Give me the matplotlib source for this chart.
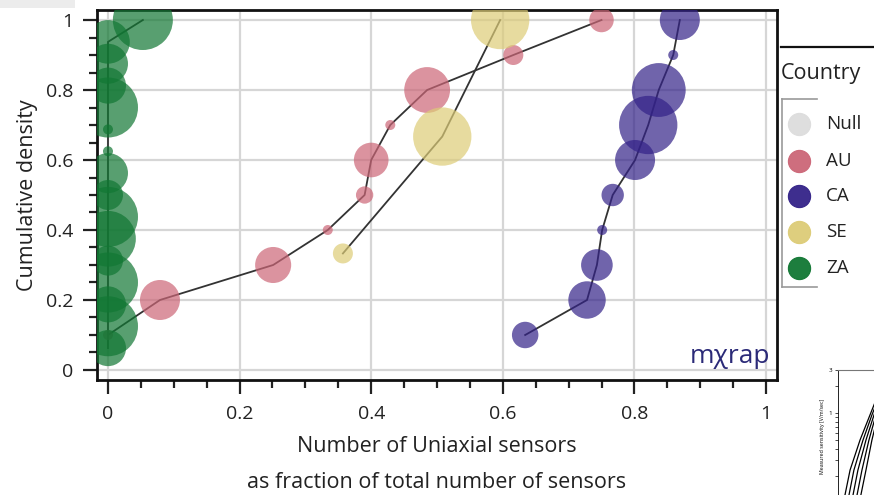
import matplotlib
matplotlib.use('Agg')
import matplotlib.pyplot as plt
from matplotlib.lines import Line2D
from matplotlib.patches import Rectangle

# ---------------- data ----------------
legend_countries = ['Null', 'AU', 'CA', 'SE', 'ZA']
country_colors = ['#dddddd', '#cc6677', '#332288', '#ddcc77', '#117733']

au_frac = [0.0, 0.079, 0.251, 0.334, 0.39, 0.40, 0.429, 0.485, 0.616, 0.75]
au_cum = [0.1, 0.2, 0.3, 0.4, 0.5, 0.6, 0.7, 0.8, 0.9, 1.0]
au_n = [1, 16, 13, 1, 3, 12, 1, 21, 4, 6]

ca_frac = [0.634, 0.728, 0.743, 0.751, 0.767, 0.801, 0.821, 0.837, 0.859, 0.869]
ca_cum = [0.1, 0.2, 0.3, 0.4, 0.5, 0.6, 0.7, 0.8, 0.9, 1.0]
ca_n = [7, 14, 10, 1, 5, 16, 34, 29, 1, 16]

se_frac = [0.357, 0.508, 0.596]
se_cum = [0.333, 0.667, 1.0]
se_n = [4, 34, 34]

za_frac = [0, 0, 0, 0, 0, 0, 0, 0, 0, 0, 0, 0, 0, 0, 0, 0.053]
za_cum = [0.0625, 0.125, 0.1875, 0.25, 0.3125, 0.375, 0.4375, 0.5,
          0.5625, 0.625, 0.6875, 0.75, 0.8125, 0.875, 0.9375, 1.0]
za_n = [13, 36, 13, 36, 9, 31, 36, 9, 16, 1, 1, 36, 13, 16, 19, 36]

ticks = [0, 0.2, 0.4, 0.6, 0.8, 1]
tick_labels = ['0', '0.2', '0.4', '0.6', '0.8', '1']

# small neighbouring figure fragment (bottom right)
frag_x = [[0.04, 0.069, 0.126, 0.183, 0.24],
          [0.063, 0.091, 0.143, 0.194, 0.251],
          [0.086, 0.114, 0.16, 0.206, 0.257],
          [0.109, 0.137, 0.177, 0.217, 0.269],
          [0.131, 0.16, 0.194, 0.229, 0.274]]
frag_y = [0.123, 0.232, 0.50, 0.95, 1.8]

# ---------------- figure ----------------
FONT = ['Open Sans', 'DejaVu Sans']
plt.rcParams['font.family'] = FONT
W, H = 874, 495
fig = plt.figure(figsize=(W / 100, H / 100), dpi=100)
fig.patch.set_facecolor('white')

def fx(px):
    return px / W

def fy(py):
    return 1 - py / H

ax = fig.add_axes([fx(97), fy(380), fx(777) - fx(97), fy(10) - fy(380)])
ax.set_xlim(-0.0167, 1.0167)
ax.set_ylim(-0.0286, 1.0286)

ax.set_xticks(ticks)
ax.set_xticklabels(tick_labels)
ax.set_yticks(ticks)
ax.set_yticklabels(tick_labels)
ax.set_xticks([i * 0.05 for i in range(21)], minor=True)
ax.set_yticks([i * 0.05 for i in range(21)], minor=True)
ax.grid(True, which='major', color='#d6d6d6', lw=1.6, zorder=0)
ax.set_axisbelow(True)
ax.tick_params(axis='both', which='major', length=10, width=1.6, color='#222222',
               labelcolor='#222222')
ax.tick_params(axis='both', which='minor', length=6, width=1.6, color='#222222')
ax.tick_params(axis='y', labelsize=14, pad=7)
ax.tick_params(axis='x', labelsize=14, pad=8)
for lab in ax.get_xticklabels():
    lab.set_family(['Liberation Sans Narrow', 'Open Sans', 'DejaVu Sans'])
for sp in ax.spines.values():
    sp.set_linewidth(2.0)
    sp.set_color('#111111')

def size(ns):
    return [51.84 * n for n in ns]

series = [(au_frac, au_cum, au_n, country_colors[1]),
          (ca_frac, ca_cum, ca_n, country_colors[2]),
          (se_frac, se_cum, se_n, country_colors[3]),
          (za_frac, za_cum, za_n, country_colors[4])]
for i, (x, y, n, c) in enumerate(series):
    ax.plot(x, y, color='#333333', lw=1.3, zorder=2 + i * 0.1)
for i, (x, y, n, c) in enumerate(series):
    ax.scatter(x, y, s=size(n), color=c, alpha=0.7, linewidths=0,
               zorder=3 + i * 0.1)

ax.set_ylabel('Cumulative density', fontsize=15.5, color='#222222', labelpad=6)
ax.set_xlabel('Number of Uniaxial sensors\nas fraction of total number of sensors',
              fontsize=15.5, color='#222222', linespacing=1.95, labelpad=9)

ax.text(0.99, 0.03, 'm\u03c7rap', transform=ax.transAxes, ha='right', va='bottom',
        fontsize=19, color='#2b2a78', zorder=6)

# ---------------- legend (outside, right) ----------------
fig.add_artist(Line2D([fx(781), fx(874)], [fy(47), fy(47)], color='#111111', lw=1.6))
fig.add_artist(Line2D([fx(782), fx(817)], [fy(99), fy(99)], color='#999999', lw=1.2))
fig.add_artist(Line2D([fx(782), fx(782)], [fy(99), fy(287)], color='#999999', lw=1.2))
fig.add_artist(Line2D([fx(782), fx(817)], [fy(287), fy(287)], color='#999999', lw=1.2))
fig.text(fx(781), fy(73), 'Country', fontsize=15.5, color='#222222', ha='left', va='center')
legend_y = [124, 161, 196, 232, 268]
for name, col, py in zip(legend_countries, country_colors, legend_y):
    fig.add_artist(Line2D([fx(799)], [fy(py)], marker='o', markersize=16,
                          markerfacecolor=col, markeredgecolor=col, alpha=0.95,
                          markeredgewidth=0.8, linestyle='none'))
    fig.text(fx(826), fy(py), name, fontsize=13.5, color='#222222', ha='left', va='center')

# ---------------- decorations ----------------
fig.add_artist(Rectangle((0, fy(8)), fx(75), fy(0) - fy(8), transform=fig.transFigure,
                         color='#ececec', lw=0))

ins = fig.add_axes([fx(838), fy(503), 0.2, fy(370) - fy(503)])
ins.set_yscale('log')
ins.set_ylim(0.1, 3)
ins.set_xlim(0, 1)
for xs in frag_x:
    ins.plot(xs, frag_y, color='black', lw=0.9)
ins.set_xticks([])
ins.set_yticks([1, 3])
ins.set_yticklabels(['1', '3'])
ins.tick_params(axis='y', which='both', labelsize=4.5, length=2, width=0.5, pad=2)
ins.spines['right'].set_visible(False)
ins.spines['bottom'].set_visible(False)
ins.spines['left'].set_linewidth(0.6)
ins.spines['top'].set_linewidth(0.8)
ins.spines['top'].set_color('#777777')
ins.set_ylabel('Measured sensitivity [V/m/sec]', fontsize=3.8, labelpad=3)

fig.savefig('out.png', dpi=100)
